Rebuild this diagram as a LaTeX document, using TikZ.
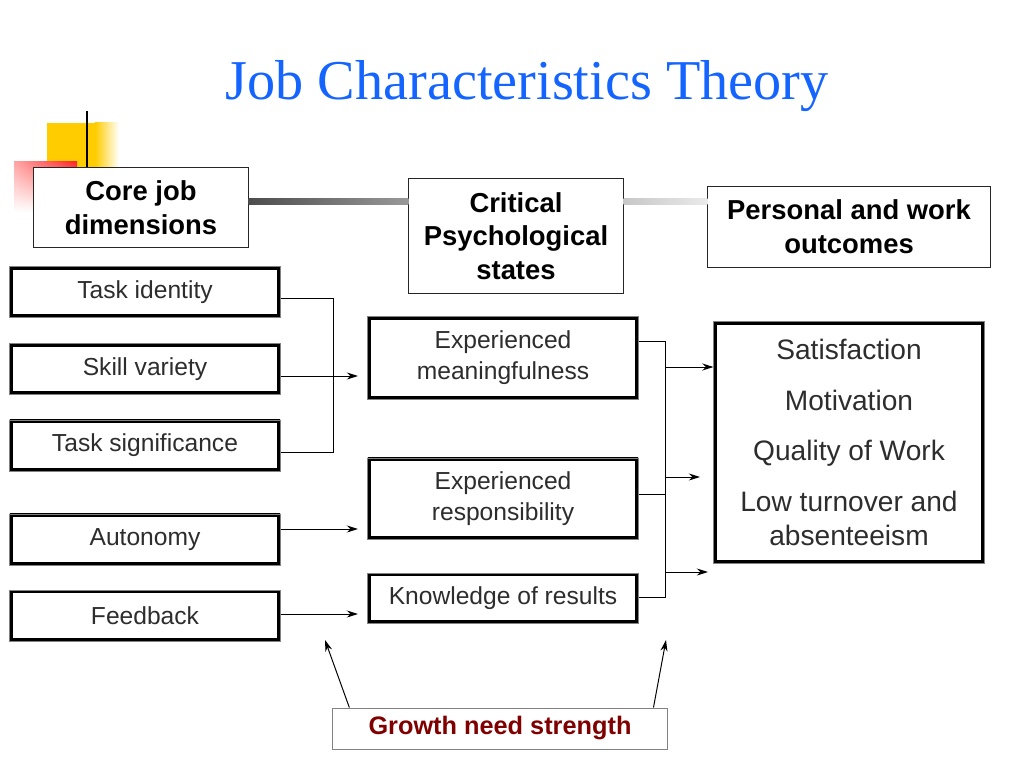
\documentclass[tikz,border=0pt]{standalone}
\usepackage{fontspec}
\setmainfont{Liberation Sans}
\newfontfamily\titlefont{Liberation Serif}
\usepackage{tikz}
\usetikzlibrary{arrows.meta,positioning,calc,shadings}
\definecolor{titleblue}{RGB}{20,100,255}
\definecolor{darkred}{RGB}{128,0,0}
\definecolor{boxgray}{RGB}{130,130,130}
\definecolor{textgray}{RGB}{45,45,45}
\definecolor{deckyellow}{RGB}{255,204,0}

\begin{document}
\begin{tikzpicture}[x=0.025cm, y=-0.025cm,
    head/.style={draw=black!85, line width=0.7pt, fill=white, align=center,
                 inner sep=0pt, font=\fontsize{19.5}{24}\selectfont\bfseries},
    framed/.style={draw=boxgray, line width=0.7pt, fill=white, align=center,
                   inner sep=0pt, text=textgray, minimum width=6.75cm,
                   path picture={\draw[black, line width=4.6pt]
                     (path picture bounding box.south west) rectangle
                     (path picture bounding box.north east);}},
    dimbox/.style={framed, minimum height=1.275cm,
                   font=\fontsize{17.5}{22}\selectfont},
    statebox/.style={framed, font=\fontsize{17.5}{22}\selectfont},
    link/.style={line width=0.7pt},
    arrow/.style={-{Stealth[length=8pt,width=5pt]}, line width=0.7pt}
  ]
  \useasboundingbox (0,0) rectangle (1024,768);
  \fill[white] (0,0) rectangle (1024,768);

  % Title
  \node[anchor=base, text=titleblue, font=\titlefont\fontsize{40}{48}\selectfont]
       (title) at (527,100) {Job Characteristics Theory};

  % Corner ornament
  \fill[deckyellow] (47,123) rectangle (95,170);
  \shade[left color=deckyellow, right color=white] (95,123) rectangle (119,170);
  \shade[upper left=red!35, upper right=red!85, lower left=white,
         lower right=white] (14,162) rectangle (77,212);
  \draw[line width=2pt] (87,111) -- (87,170);

  % Headers
  \node[head, minimum width=5.35cm, minimum height=1.975cm] (core)
       at (141,207.5) {Core job\\dimensions};
  \node[head, minimum width=5.35cm, minimum height=2.85cm] (crit)
       at (516,236) {Critical\\Psychological\\states};
  \node[head, minimum width=7.05cm, minimum height=2cm] (pwo)
       at (849,227) {Personal and work\\outcomes};

  % Header bars
  \coordinate (bar) at (0,201.5);
  \shade[left color=black!70, right color=black!40]
        ([yshift=1.8pt]core.east |- bar) rectangle ([yshift=-1.8pt]crit.west |- bar);
  \shade[left color=black!22, right color=black!8]
        ([yshift=1.8pt]crit.east |- bar) rectangle ([yshift=-1.8pt]pwo.west |- bar);

  % Nodes
  \node[dimbox] (ti) at (145,292)   {Task identity};
  \node[dimbox] (sv) at (145,369)   {Skill variety};
  \node[dimbox] (ts) at (145,445.5) {Task significance};
  \node[dimbox] (au) at (145,539.5) {Autonomy};
  \node[dimbox] (fb) at (145,615.5) {Feedback};

  \node[statebox, minimum height=2.05cm]  (mf) at (503,358)   {Experienced\\meaningfulness};
  \node[statebox, minimum height=2.025cm] (rs) at (503,498.5) {Experienced\\responsibility};
  \node[statebox, minimum height=1.25cm]  (kr) at (503,598)   {Knowledge of results};

  \node[framed, minimum height=6.025cm, font=\fontsize{20}{24}\selectfont]
       (oc) at (849,442.5)
       {Satisfaction\\[12pt]Motivation\\[12pt]Quality of Work\\[12pt]Low turnover and\\absenteeism};

  \node[draw=boxgray, line width=0.7pt, fill=white, inner sep=0pt,
        minimum width=8.35cm, minimum height=1.025cm, text=darkred,
        font=\fontsize{18}{22}\selectfont\bfseries]
       (gns) at (500,728.5) {Growth need strength};

  % Dimensions -> states
  \coordinate (brtop) at (333,298);
  \coordinate (brbot) at (333,452);
  \coordinate (mfin)  at (358,376);
  \coordinate (rsin)  at (358,529);
  \coordinate (krin)  at (358,614);
  \draw[link] (ti.east |- brtop) -- (brtop) -- (brbot) -- (ts.east |- brbot);
  \draw[arrow] (sv.east |- mfin) -- (mfin);
  \draw[arrow] (au.east |- rsin) -- (rsin);
  \draw[arrow] (fb.east |- krin) -- (krin);

  % States -> outcomes
  \coordinate (rbtop) at (665,341);
  \coordinate (rbmid) at (665,494);
  \coordinate (rbbot) at (665,597);
  \coordinate (rb1) at (665,367);
  \coordinate (rb2) at (665,477);
  \coordinate (rb3) at (665,572);
  \coordinate (oc2in) at (700,477);
  \coordinate (oc3in) at (708,572);
  \draw[link] (mf.east |- rbtop) -- (rbtop) -- (rbbot) -- (kr.east |- rbbot);
  \draw[link] (rs.east |- rbmid) -- (rbmid);
  \draw[arrow] (rb1) -- (oc.west |- rb1);
  \draw[arrow] (rb2) -- (oc2in);
  \draw[arrow] (rb3) -- (oc3in);

  % Growth need strength
  \coordinate (gl) at (325,640);
  \coordinate (gr) at (666,640);
  \draw[arrow] ([xshift=12pt]gns.north west) -- (gl);
  \draw[arrow] ([xshift=-10pt]gns.north east) -- (gr);
\end{tikzpicture}
\end{document}
